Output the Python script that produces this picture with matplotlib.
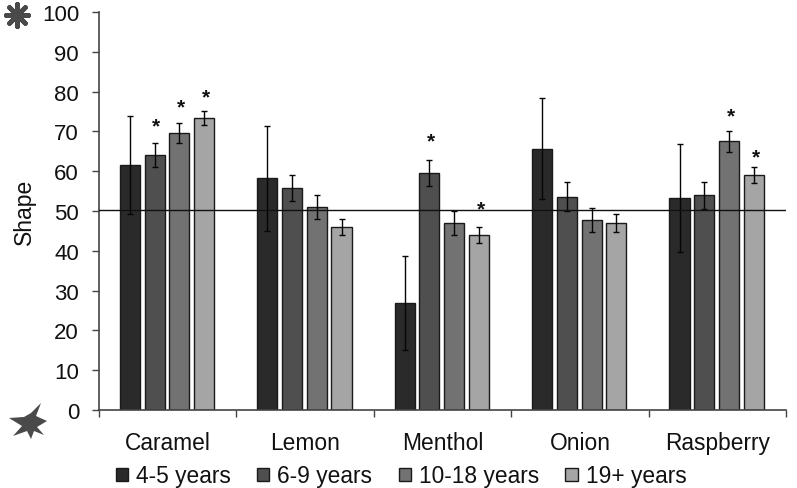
import matplotlib
matplotlib.use("Agg")
import matplotlib.pyplot as plt
from matplotlib.patches import Polygon
import numpy as np

plt.rcParams['font.family'] = ['Liberation Sans', 'DejaVu Sans']

categories = ["Caramel", "Lemon", "Menthol", "Onion", "Raspberry"]
series_names = ["4-5 years", "6-9 years", "10-18 years", "19+ years"]
colors = ["#2a2a2a", "#4f4f4f", "#727272", "#a5a5a5"]
v_4_5 = [61.6, 58.2, 27.0, 65.7, 53.3]
v_6_9 = [64.0, 55.7, 59.5, 53.6, 54.0]
v_10_18 = [69.5, 51.0, 47.0, 47.8, 67.5]
v_19 = [73.3, 46.0, 44.0, 47.0, 59.0]
e_4_5 = [12.3, 13.2, 11.8, 12.8, 13.6]
e_6_9 = [3.0, 3.3, 3.2, 3.7, 3.4]
e_10_18 = [2.5, 3.0, 3.1, 3.0, 2.6]
e_19 = [1.8, 2.0, 2.0, 2.2, 2.0]
all_values = [v_4_5, v_6_9, v_10_18, v_19]
all_errors = [e_4_5, e_6_9, e_10_18, e_19]
sig_cat = [0, 0, 0, 2, 2, 4, 4]
sig_ser = [1, 2, 3, 1, 3, 2, 3]
sig_y = [71.5, 76.2, 78.6, 67.5, 50.5, 73.8, 63.6]
reference_level = 50.3

W, H = 797, 489
fig = plt.figure(figsize=(W/100, H/100), dpi=100)
L, R, T, B = 99, 786, 13, 411
ax = fig.add_axes([L/W, 1-B/H, (R-L)/W, (B-T)/H])

x = np.arange(len(categories))
step, width = 0.18, 0.146
for i, (vals, errs, c, n) in enumerate(zip(all_values, all_errors, colors, series_names)):
    pos = x + (i-1.5)*step - 0.005
    ax.bar(pos, vals, width, color=c, edgecolor="#1a1a1a", linewidth=1.0, label=n, zorder=2)
    ax.errorbar(pos, vals, yerr=errs, fmt="none", ecolor="#050505", elinewidth=1.0,
                capsize=2.5, capthick=1.0, zorder=3)

for ci, si, y in zip(sig_cat, sig_ser, sig_y):
    ax.text(ci + (si-1.5)*step + 0.008, y, "*", ha="center", va="center", fontsize=15,
            fontweight="bold", color="#111111", zorder=4)

ax.axhline(reference_level, color="#111111", lw=1.0, zorder=5)

ax.set_xlim(-0.5, 4.5)
ax.set_ylim(0, 100)
ax.set_yticks(np.arange(0, 101, 10))
ax.set_xticks(np.arange(-0.5, 5, 1))
ax.set_xticklabels([])
ax.set_xticks(x, minor=True)
ax.set_xticklabels(categories, minor=True)
ax.tick_params(axis="x", which="minor", length=0, pad=15, labelsize=16.4, colors="#111111")
ax.tick_params(axis="x", which="major", length=5, width=1, color="#444444", direction="out")
ax.tick_params(axis="y", length=5.4, width=1, color="#444444", direction="out", pad=9,
               labelsize=16, labelcolor="#111111")
for s in ["top", "right"]:
    ax.spines[s].set_visible(False)
for s in ["left", "bottom"]:
    ax.spines[s].set_color("#444444")
    ax.spines[s].set_linewidth(1.2)
ax.set_axisbelow(False)

fig.text(24/W, 1-212/H, "Shape", rotation=90, ha="center", va="center", fontsize=16.5, color="#111111")

fig.legend(*ax.get_legend_handles_labels(), loc="center", bbox_to_anchor=(401/W, 1-477/H), ncol=4,
           frameon=False, fontsize=16.4, handlelength=0.54, handleheight=0.54, handletextpad=0.35,
           columnspacing=1.15, labelcolor="#111111", borderpad=0)

# decorative stars beside the axis ends
ov = fig.add_axes([0, 0, 1, 1], facecolor="none")
ov.set_xlim(0, W); ov.set_ylim(H, 0); ov.axis("off")
ov.scatter([17], [16], marker=(8, 2, 0), s=260, color="#4a4a4a", linewidths=3.4)
ov.scatter([17], [16], s=90, color="#4a4a4a", linewidths=0)
big_star = [(41, 404), (36, 417), (47, 422), (37, 428), (44, 436), (34, 432), (31, 440),
            (27, 432), (13, 437), (22, 427), (9, 419), (24, 418), (31, 414)]
ov.add_patch(Polygon(big_star, closed=True, facecolor="#4a4a4a", edgecolor="none"))

fig.savefig("out.png", dpi=100)
